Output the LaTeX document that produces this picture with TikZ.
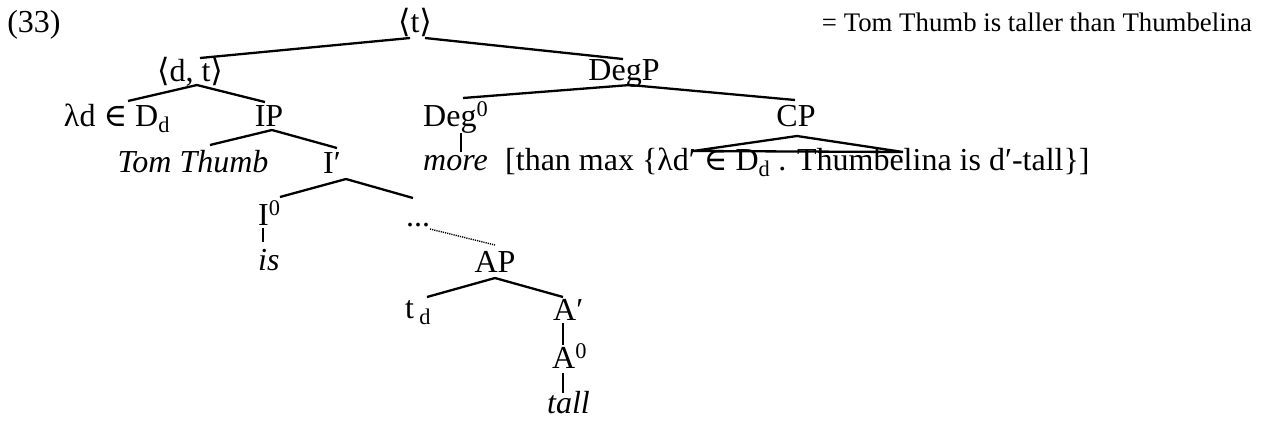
\documentclass[tikz,border=0pt]{standalone}
\usepackage{fontspec}
\setmainfont{Liberation Serif}
\newfontfamily\symf{DejaVu Serif}
\newcommand{\la}{{\symf ⟨}}
\newcommand{\ra}{{\symf ⟩}}
\newcommand{\ele}{{\symf ∈}}
\usetikzlibrary{calc}
\begin{document}
\begin{tikzpicture}[x=1pt,y=-1pt,
  lab/.style={anchor=base, inner sep=0pt, font=\fontsize{32}{36}\selectfont},
  labw/.style={lab, anchor=base west},
  small/.style={anchor=base, inner sep=0pt, font=\fontsize{26.8}{30}\selectfont},
  branch/.style={line width=2.3pt},
  dotline/.style={line width=1.4pt, dash pattern=on 1.2pt off 1pt}]
\useasboundingbox (0,0) rectangle (1262,421);
\fill[white] (0,0) rectangle (1262,421);
% nodes
\node[lab] (n33) at (34,32) {(33)};
\node[small] (eq) at (1037,31) {= Tom Thumb is taller than Thumbelina};
\node[lab] (t) at (415,32) {\la t\ra};
\node[lab] (dt) at (190,81) {\la d, t\ra};
\node[lab] (degp) at (624,80) {DegP};
\node[lab] (lam) at (117,126) {λd \ele{} D\textsubscript{d}};
\node[lab] (ip) at (269,126) {IP};
\node[labw] (deg) at (423,126) {Deg\textsuperscript{0}};
\node[lab] (cp) at (796,126) {CP};
\node[lab] (tt) at (193,172) {\itshape Tom Thumb};
\node[labw] (ib) at (323,173) {I′};
\node[labw] (more) at (423,170) {\itshape more};
\node[labw] (than) at (505,170) {[than max \{λd′ \ele{} D\textsubscript{d} . Thumbelina is d′-tall\}]};
\node[labw] (i0) at (258,225) {I\textsuperscript{0}};
\node[labw] (is) at (258,270) {\itshape is};
\node[lab] (dots) at (418,226) {...};
\node[lab] (ap) at (495,272) {AP};
\node[labw] (td) at (405,318) {t\,\textsubscript{d}};
\node[labw] (ab) at (553,320) {A′};
\node[labw] (a0) at (552,368) {A\textsuperscript{0}};
\node[labw] (tall) at (547,413) {\itshape tall};
\coordinate (cpl) at (693,151);
\coordinate (cpr) at (903,152);
% branches
\draw[branch] ($(t.base)+(-5,6)$) -- ($(dt.base)+(10,-23)$);
\draw[branch] ($(t.base)+(10,6)$) -- ($(degp.base)+(-1,-21)$);
\draw[branch] ($(dt.base)+(7,4)$) -- ($(lam.base)+(11,-25)$);
\draw[branch] ($(dt.base)+(7,4)$) -- ($(ip.base)+(-4,-24)$);
\draw[branch] ($(degp.base)+(6,5)$) -- ($(deg.base west)+(40,-28)$);
\draw[branch] ($(degp.base)+(6,5)$) -- ($(cp.base)+(-1,-26)$);
\draw[branch] ($(ip.base)+(3,4)$) -- ($(tt.base)+(17,-27)$);
\draw[branch] ($(ip.base)+(3,4)$) -- ($(ib.base west)+(14,-25)$);
\draw[branch] ($(ib.base west)+(23,6)$) -- ($(i0.base west)+(22,-28)$);
\draw[branch] ($(ib.base west)+(23,6)$) -- ($(dots.base)+(-5,-28)$);
\draw[dotline] ($(dots.base)+(12,3)$) -- ($(ap.base)+(0,-27)$);
\draw[branch] ($(i0.base west)+(5,3)$) -- ($(is.base west)+(5,-28)$);
\draw[branch] ($(ap.base)+(0,6)$) -- ($(td.base west)+(22,-21)$);
\draw[branch] ($(ap.base)+(0,6)$) -- ($(ab.base west)+(10,-23)$);
\draw[branch] ($(ab.base west)+(10,3)$) -- ($(a0.base west)+(11,-23)$);
\draw[branch] ($(a0.base west)+(11,5)$) -- ($(tall.base west)+(16,-20)$);
\draw[branch] ($(deg.base west)+(38,7)$) -- ($(more.base west)+(38,-18)$);
\draw[branch] ($(cp.base)+(1,10)$) -- (cpl) -- (cpr) -- cycle;
\end{tikzpicture}
\end{document}
